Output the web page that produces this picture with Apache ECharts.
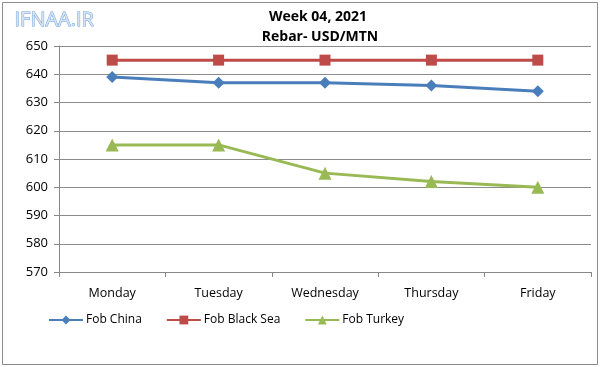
<!DOCTYPE html>
<html><head><meta charset="utf-8">
<script src="https://cdn.jsdelivr.net/npm/echarts@6/dist/echarts.min.js"></script>
<style>html,body{margin:0;padding:0;background:#fff}#c{width:600px;height:367px}</style>
</head><body><div id="c"></div>
<script>
var categories = ['Monday','Tuesday','Wednesday','Thursday','Friday'];
var fobChina = [639, 637, 637, 636, 634];
var fobBlackSea = [645, 645, 645, 645, 645];
var fobTurkey = [615, 615, 605, 602, 600];
var titleLine1 = 'Week 04, 2021';
var titleLine2 = 'Rebar- USD/MTN';

var chart = echarts.init(document.getElementById('c'));
var f = '"Open Sans", sans-serif';
chart.setOption({
  animation: false,
  backgroundColor: '#fff',
  graphic: [
    {type:'rect', shape:{x:2.5,y:2.5,width:595,height:362}, style:{fill:'none', stroke:'#8c8c8c', lineWidth:1}},
    {type:'text', left:14, top:10, style:{text:'IFNAA.IR', fontSize:20, fontFamily:f, fill:'#d5e4f7', stroke:'#6f9fd8', lineWidth:1}},
    {type:'text', x:318, y:10, style:{text:titleLine1, fontSize:14, fontWeight:'bold', fontFamily:f, fill:'#000', align:'center', textAlign:'center'}},
    {type:'text', x:320, y:30, style:{text:titleLine2, fontSize:14, fontWeight:'bold', fontFamily:f, fill:'#000', align:'center', textAlign:'center'}}
  ],
  grid: {left:59, right:9, top:46, bottom:95, containLabel:false},
  legend: {
    bottom: 36, left: 43, itemGap: 24, itemWidth: 34, itemHeight: 11,
    textStyle:{fontSize:12, fontFamily:f, color:'#000', padding:[0,0,0,-2]},
    data:['Fob China','Fob Black Sea','Fob Turkey']
  },
  xAxis: {
    type:'category', data: categories, boundaryGap:true,
    axisLine:{lineStyle:{color:'#888', width:1}},
    axisTick:{show:true, length:5, lineStyle:{color:'#888'}},
    axisLabel:{fontSize:12.5, color:'#000', margin:15, fontFamily:f}
  },
  yAxis: {
    type:'value', min:570, max:650, interval:10,
    axisLine:{show:true, lineStyle:{color:'#888'}},
    axisTick:{show:true, length:5, lineStyle:{color:'#888'}},
    axisLabel:{fontSize:13, color:'#000', margin:11, fontFamily:f},
    splitLine:{lineStyle:{color:'#8c8c8c', width:1}}
  },
  series: [
    {name:'Fob China', type:'line', data:fobChina, symbol:'diamond', symbolSize:12,
     lineStyle:{color:'#4a7ebb', width:3}, itemStyle:{color:'#4a7ebb'}},
    {name:'Fob Black Sea', type:'line', data:fobBlackSea, symbol:'rect', symbolSize:11,
     lineStyle:{color:'#be4b48', width:3}, itemStyle:{color:'#be4b48'}},
    {name:'Fob Turkey', type:'line', data:fobTurkey, symbol:'triangle', symbolSize:13,
     lineStyle:{color:'#98b954', width:3}, itemStyle:{color:'#98b954'}}
  ]
});
</script></body></html>
